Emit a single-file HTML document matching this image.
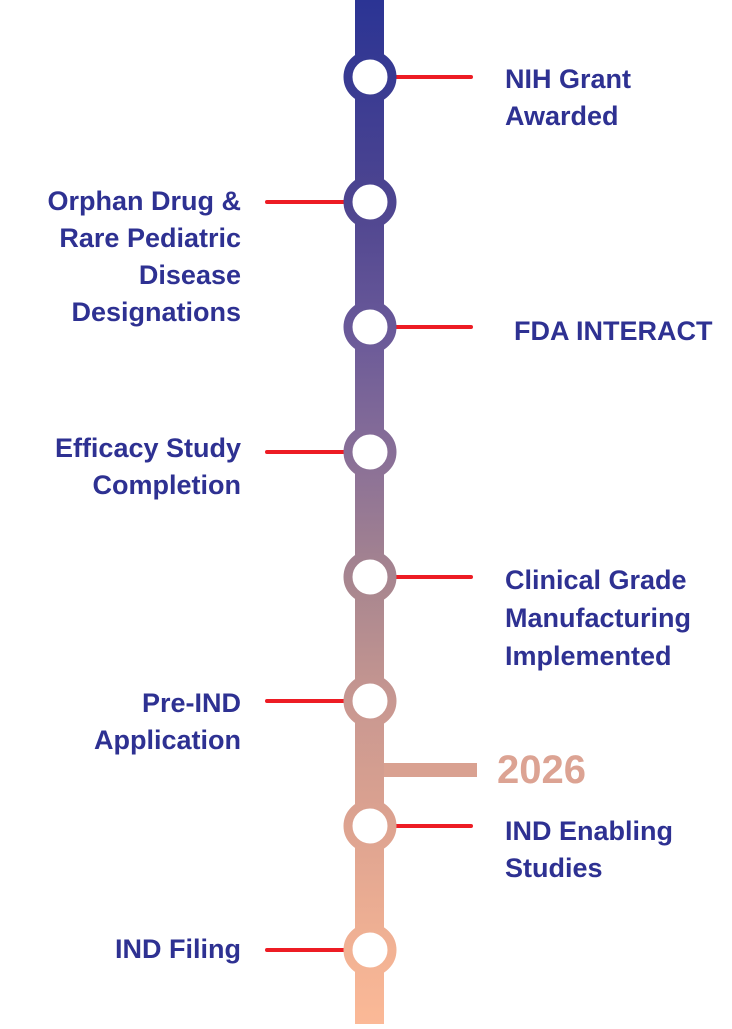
<!DOCTYPE html>
<html><head><meta charset="utf-8"><style>
html,body{margin:0;padding:0;background:#fff;}
svg text{font-family:"Liberation Sans",sans-serif;font-weight:bold;font-size:27px;fill:#2e3192;dominant-baseline:central;}
</style></head><body>
<svg width="732" height="1024" viewBox="0 0 732 1024" xmlns="http://www.w3.org/2000/svg">
<defs>
<linearGradient id="g" x1="0" y1="0" x2="0" y2="1024" gradientUnits="userSpaceOnUse">
<stop offset="0" stop-color="#2b3494"/>
<stop offset="0.2" stop-color="#4e4590"/>
<stop offset="0.33" stop-color="#6b5a99"/>
<stop offset="0.45" stop-color="#8a7097"/>
<stop offset="0.57" stop-color="#a8868f"/>
<stop offset="0.69" stop-color="#c99891"/>
<stop offset="0.8" stop-color="#dca290"/>
<stop offset="0.93" stop-color="#f2b294"/>
<stop offset="1" stop-color="#fbb997"/>
</linearGradient>
</defs>
<rect x="355" y="0" width="29" height="1024" fill="url(#g)"/>
<rect x="384" y="763" width="93" height="14" fill="#d9a191"/>
<text x="497" y="770" style="font-size:40px;fill:#dca393">2026</text>
<g stroke="#ed1c24" stroke-width="4" stroke-linecap="round">
<line x1="392" y1="77" x2="471" y2="77"/>
<line x1="267" y1="202" x2="346" y2="202"/>
<line x1="392" y1="327" x2="471" y2="327"/>
<line x1="267" y1="452" x2="346" y2="452"/>
<line x1="392" y1="577" x2="471" y2="577"/>
<line x1="267" y1="701" x2="346" y2="701"/>
<line x1="392" y1="826" x2="471" y2="826"/>
<line x1="267" y1="950" x2="346" y2="950"/>
</g>
<g fill="#fff" stroke="url(#g)" stroke-width="9">
<circle cx="370" cy="77" r="22"/>
<circle cx="370" cy="202" r="22"/>
<circle cx="370" cy="327" r="22"/>
<circle cx="370" cy="452" r="22"/>
<circle cx="370" cy="577" r="22"/>
<circle cx="370" cy="701" r="22"/>
<circle cx="370" cy="826" r="22"/>
<circle cx="370" cy="950" r="22"/>
</g>
<text x="505" y="79">NIH Grant</text>
<text x="505" y="116">Awarded</text>
<g text-anchor="end">
<text x="241" y="201">Orphan Drug &amp;</text>
<text x="241" y="238">Rare Pediatric</text>
<text x="241" y="275">Disease</text>
<text x="241" y="312">Designations</text>
<text x="241" y="448">Efficacy Study</text>
<text x="241" y="485">Completion</text>
<text x="241" y="703">Pre-IND</text>
<text x="241" y="740">Application</text>
<text x="241" y="949">IND Filing</text>
</g>
<text x="514" y="331">FDA INTERACT</text>
<text x="505" y="580">Clinical Grade</text>
<text x="505" y="618">Manufacturing</text>
<text x="505" y="656">Implemented</text>
<text x="505" y="831">IND Enabling</text>
<text x="505" y="868">Studies</text>
</svg>
</body></html>
